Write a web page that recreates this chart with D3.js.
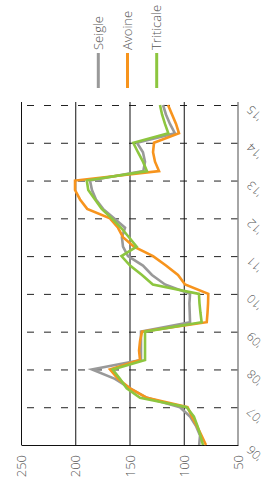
<!DOCTYPE html>
<html><head><meta charset="utf-8">
<script src="https://cdn.jsdelivr.net/npm/d3@7/dist/d3.min.js"></script>
<style>
html,body{margin:0;padding:0;background:#fff;}
svg{display:block;font-family:"Open Sans",sans-serif;}
text{font-weight:300;}
</style></head><body>
<svg id="c" width="272" height="493"></svg>
<script>
// ---- data ----
const years = [2006,2007,2008,2009,2010,2011,2012,2013,2014,2015];
const yearLabels = ["'06","'07","'08","'09","'10","'11","'12","'13","'14","'15"];
const periods = [2006,2006.25,2006.5,2006.75,2007,2007.25,2007.5,2007.75,2008,2008.25,2008.5,2008.75,
  2009,2009.25,2009.5,2009.75,2010,2010.25,2010.5,2010.75,2011,2011.25,2011.5,2011.75,
  2012,2012.25,2012.5,2012.75,2013,2013.25,2013.5,2013.75,2014,2014.25,2014.5,2014.75,2015];
const seigle = [85.8,85,88.7,94.2,103.5,133.9,149.5,163.4,184.6,139.4,139.4,139.4,
  139.4,94.2,94.5,94.8,94.2,117.3,129.3,137.6,151.4,156,157,154.1,
  164.3,174.4,180.9,184.6,186.4,137.3,135.7,137.6,143.1,108.1,112.7,116.4,119.1];
const avoine = [79.5,83.6,87.8,92.4,96.5,133.9,149.5,160.6,168,140.3,141.2,140.3,
  138.5,78.8,78.1,77.6,77.4,98.8,105.3,116.4,128.3,145.9,156,160.6,
  168,189,195.6,200.2,200.2,122.8,126.5,128.3,127.4,104.4,107.1,110.8,114.5];
const triticale = [82.3,84.6,87.3,90.6,97.3,140.3,152.6,158.8,165.5,135.7,135.7,135.7,
  135.7,83.5,84.6,85.5,86,128.5,138.5,149.5,157.4,143.4,150.5,157.8,
  166.4,175.6,181.8,188,189.4,133.9,137.6,142.2,146.5,114.2,117.3,120,121.9];
const valueTicks = [50,100,150,200,250];
const seriesNames = ["Seigle","Avoine","Triticale"];
const seriesColors = ["#999999","#f7941d","#8dc63f"];
const seriesData = [seigle, avoine, triticale];

// ---- layout ----
const svg = d3.select("#c");
const pLeft = 21, pRight = 238, pBottom = 445, pTop = 105, gridTop = 102;
const xv = d3.scaleLinear().domain([50,250]).range([pRight,pLeft]);
const yt = d3.scaleLinear().domain([2006,2015]).range([pBottom,pTop]);

// dashed year gridlines
const gY = svg.append("g").attr("transform",`translate(${pRight},0)`)
  .call(d3.axisLeft(yt).tickValues(years.slice(1)).tickSize(pRight-pLeft).tickFormat(""));
gY.select(".domain").remove();
gY.selectAll(".tick line").attr("stroke","#222").attr("stroke-dasharray","7,10");

// solid value gridlines
const gX = svg.append("g").attr("transform",`translate(0,${pBottom})`)
  .call(d3.axisTop(xv).tickValues([100,150,200,250]).tickSize(pBottom-gridTop).tickFormat(""));
gX.select(".domain").remove();
gX.selectAll(".tick line").attr("stroke","#111");

// time axis line (right)
svg.append("line").attr("x1",pRight).attr("x2",pRight).attr("y1",gridTop).attr("y2",pBottom)
  .attr("stroke","#888").attr("stroke-width",1.5);

// value axis (bottom)
const ax = svg.append("g").attr("transform",`translate(0,${pBottom})`)
  .call(d3.axisBottom(xv).tickValues(valueTicks).tickSize(0).tickPadding(0));
ax.select(".domain").attr("stroke","#111");
ax.selectAll(".tick text")
  .attr("transform","translate(0,10) rotate(-90)")
  .attr("text-anchor","end").attr("x",0).attr("y",0).attr("dy","0.35em")
  .attr("fill","#555").style("font-size","13px").style("font-family","'Open Sans',sans-serif");

// time axis labels
const at = svg.append("g").attr("transform",`translate(${pRight},0)`)
  .call(d3.axisRight(yt).tickValues(years).tickFormat((d,i)=>yearLabels[i]).tickSize(0));
at.select(".domain").remove();
at.selectAll(".tick text")
  .attr("transform","translate(11,2) rotate(-135)")
  .attr("text-anchor","end").attr("x",0).attr("y",0).attr("dy","0.35em")
  .attr("fill","#555").style("font-size","12px").style("font-family","'Open Sans',sans-serif");

// lines
const line = d3.line().x(d=>xv(d[1])).y(d=>yt(d[0]));
seriesData.forEach((s,i)=>{
  svg.append("path").datum(periods.map((p,j)=>[p,s[j]]))
    .attr("d",line).attr("fill","none").attr("stroke",seriesColors[i])
    .attr("stroke-width",2.6).attr("stroke-linejoin","miter");
});

// legend
const legX = d3.scalePoint().domain(seriesNames).range([98.3,156.7]);
seriesNames.forEach((n,i)=>{
  const x = legX(n);
  svg.append("line").attr("x1",x).attr("x2",x).attr("y1",53).attr("y2",88)
    .attr("stroke",seriesColors[i]).attr("stroke-width",3);
  svg.append("text").attr("transform",`translate(${x},50) rotate(-90)`)
    .attr("dy","0.35em").attr("fill","#555").style("font-size","13px").text(n);
});
</script></body></html>
